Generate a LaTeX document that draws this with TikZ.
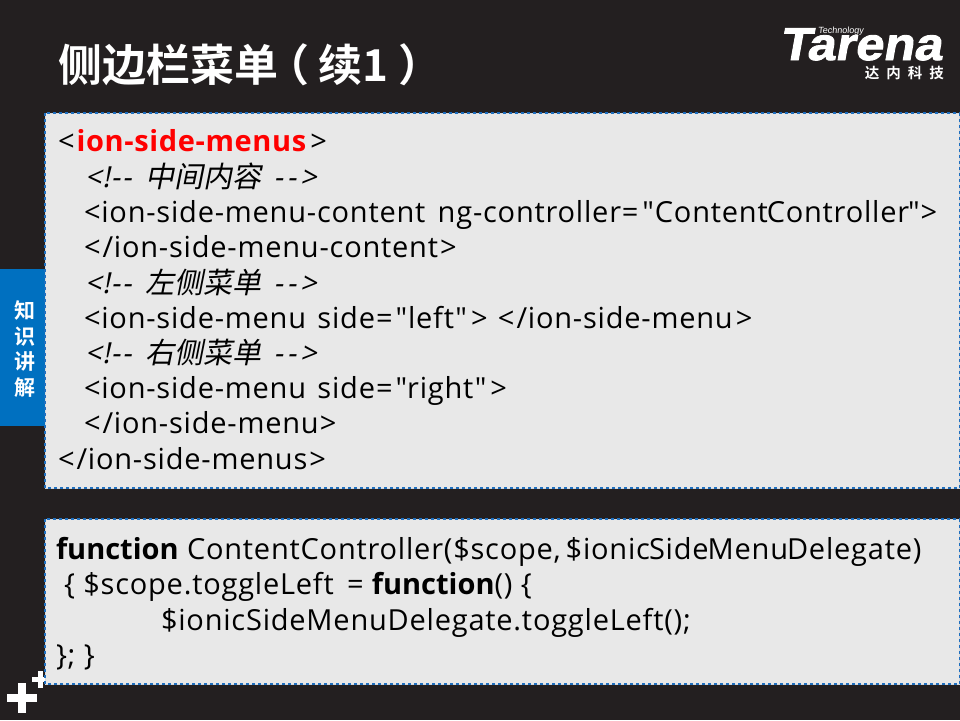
\documentclass[tikz,border=0pt]{standalone}
\usepackage{fontspec}
\newfontfamily\codefont[LetterSpace=2.7]{Open Sans}
\newfontfamily\slantfont[FakeSlant=0.2,LetterSpace=2.7]{Open Sans}
\newfontfamily\slantcjk[FakeSlant=0.2]{Noto Sans CJK SC}
\newfontfamily\boldfont{Open Sans Bold}
\newfontfamily\redfont[LetterSpace=2.2]{Open Sans Bold}
\newfontfamily\boldcjk{Noto Sans CJK SC Bold}
\newfontfamily\logofont[FakeSlant=0.18,FakeStretch=1.1,FakeBold=2]{Liberation Sans Bold}
\newfontfamily\techfont[FakeSlant=0.1]{Liberation Sans}
\definecolor{bgdark}{HTML}{231F20}
\definecolor{boxgrey}{HTML}{E8E8E8}
\definecolor{boxedge}{HTML}{D4D8DC}
\definecolor{boxblue}{HTML}{1F6FBF}
\definecolor{tabblue}{HTML}{0070C0}
\tikzset{
  x=1pt,y=-1pt,
  panel/.style={fill=boxgrey,draw=boxedge,line width=1pt,
    postaction={draw=boxblue,line width=2pt,dash pattern=on 3pt off 3pt}},
  code/.style={anchor=base west,inner sep=0pt,outer sep=0pt,font=\fontsize{29}{29}\codefont,text=black},
  cmt/.style={code,font=\fontsize{29}{29}\slantfont},
}
\newcommand{\kw}[1]{{\boldfont #1}}
\newcommand{\zhc}[1]{<!-\kern2pt-\kern14pt{\fontsize{29}{29}\slantcjk #1}\kern12pt-\kern4pt-\kern4pt>}
\begin{document}
\begin{tikzpicture}
\useasboundingbox (0,0) rectangle (960,720);
\fill[bgdark] (0,0) rectangle (960,720);
\node[anchor=base west,inner sep=0pt,text=white,font=\fontsize{44}{44}\boldcjk] (title) at (58,81) {侧边栏菜单\hspace{-13pt}（\hspace{9pt}续1\hspace{10pt}）};
% logo
\node[anchor=base west,inner sep=0pt,text=white,font=\fontsize{46}{46}\logofont] (logo) at (779,60) {Tarena};
\node[anchor=base west,inner sep=0pt,text=white,font=\fontsize{9}{9}\techfont] (tech) at (818,33) {Technology};
\node[anchor=base east,inner sep=0pt,text=white,font=\fontsize{14.5}{14.5}\boldcjk] (cn) at (944,78.5) {达\kern7pt 内\kern7pt 科\kern7pt 技};
% plus
\fill[white] (7,694) rectangle (37,702);
\fill[white] (18,683) rectangle (26,713);
\fill[white] (32,677) rectangle (47,682);
\fill[white] (38,671) rectangle (43,688);
% side tab
\fill[tabblue] (0,269) rectangle (45,426);
% panels
\path[panel] (45,113) rectangle (959.5,488);
\path[panel] (45,519) rectangle (959.5,684);
\node[align=center,inner sep=0pt,text=white,font=\fontsize{21}{25.7}\boldcjk] (tab) at (25,349) {知\\识\\讲\\解};
% code 1
\node[code] (l1) at (58,151) {<\kern2pt{\redfont\color{red}ion-side-menus}\kern4pt>};
\node[cmt] (l2) at (85,187) {\zhc{中间内容}};
\node[code] (l3) at (84,222) {<ion-side-menu-content\kern4pt{} ng-controller=\kern4pt"Content\kern-1pt{}Controller\kern-1pt">};
\node[code] (l4) at (84,257) {<\kern2pt/ion-side-menu-content\kern2pt>};
\node[cmt] (l5) at (85,293) {\zhc{左侧菜单}};
\node[code] (l6) at (84,328) {<ion-side-menu\kern3pt{} side\kern1pt=\kern3pt"left"\kern4pt>\kern2pt{} <\kern2pt/ion-side-menu\kern3pt>};
\node[cmt] (l7) at (85,363) {\zhc{右侧菜单}};
\node[code] (l8) at (84,398) {<ion-side-menu\kern3pt{} side\kern1pt=\kern3pt"right"\kern4pt>};
\node[code] (l9) at (84,433) {<\kern2pt/ion-side-menu\kern1pt>};
\node[code] (l10) at (58,469) {<\kern2pt/ion-side-menus\kern2pt>};
% code 2
\node[code] (c1) at (56,559) {\kw{function} ContentController(\$scope,\kern-3.5pt{} \$ionic\kern-1pt{}Side\kern-1pt{}Menu\kern-1pt{}Delegate)};
\node[code] (c2) at (64,594) {\{ \$scope.toggleLeft \,= \kw{function}() \{};
\node[code] (c3) at (161,630) {\$ionicSideMenuDelegate.toggleLeft();};
\node[code] (c4) at (56,665) {\}; \}};
\end{tikzpicture}
\end{document}
